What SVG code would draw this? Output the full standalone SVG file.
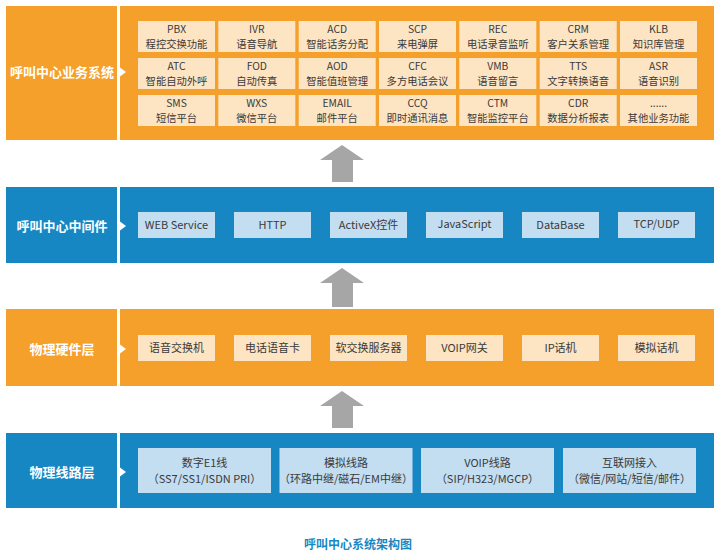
<svg xmlns="http://www.w3.org/2000/svg" width="720" height="555" viewBox="0 0 720 555">
<style>
.bg{fill:#ffffff}
.or{fill:#F5A02A}
.bl{fill:#1787C3}
.pk{fill:#FDE4C3}
.lb{fill:#C3DDF1}
.lbl{font-family:"Noto Sans CJK SC","Noto Sans",sans-serif;font-size:13px;font-weight:bold;fill:#ffffff;text-anchor:middle}
.t{font-family:"Noto Sans CJK SC","Noto Sans",sans-serif;font-size:11px;fill:#3a3a3a;text-anchor:middle}
.s{font-size:10.3px}
.tri{fill:#ffffff}
.arr{fill:#A6A6A6}
.cap{font-family:"Noto Sans CJK SC","Noto Sans",sans-serif;font-size:12px;font-weight:bold;fill:#1787C3;text-anchor:middle}
</style>
<rect class="bg" x="0" y="0" width="720" height="555"/>

<g id="layer-business">
  <rect class="or" x="6" y="6" width="111" height="134"/>
  <rect class="or" x="120" y="6" width="594" height="134"/>
  <polygon class="tri" points="118,66 126,72 118,78"/>
  <text class="lbl" x="62" y="77">呼叫中心业务系统</text>
  <g id="b-pbx"><rect class="pk" x="138" y="21" width="77" height="31"/><text class="t s" x="176.5" y="32.5">PBX<tspan x="176.5" dy="15">程控交换功能</tspan></text></g>
  <g id="b-ivr"><rect class="pk" x="218.3" y="21" width="77" height="31"/><text class="t s" x="256.8" y="32.5">IVR<tspan x="256.8" dy="15">语音导航</tspan></text></g>
  <g id="b-acd"><rect class="pk" x="298.7" y="21" width="77" height="31"/><text class="t s" x="337.2" y="32.5">ACD<tspan x="337.2" dy="15">智能话务分配</tspan></text></g>
  <g id="b-scp"><rect class="pk" x="379" y="21" width="77" height="31"/><text class="t s" x="417.5" y="32.5">SCP<tspan x="417.5" dy="15">来电弹屏</tspan></text></g>
  <g id="b-rec"><rect class="pk" x="459.3" y="21" width="77" height="31"/><text class="t s" x="497.8" y="32.5">REC<tspan x="497.8" dy="15">电话录音监听</tspan></text></g>
  <g id="b-crm"><rect class="pk" x="539.7" y="21" width="77" height="31"/><text class="t s" x="578.2" y="32.5">CRM<tspan x="578.2" dy="15">客户关系管理</tspan></text></g>
  <g id="b-klb"><rect class="pk" x="620" y="21" width="77" height="31"/><text class="t s" x="658.5" y="32.5">KLB<tspan x="658.5" dy="15">知识库管理</tspan></text></g>

  <g id="b-atc"><rect class="pk" x="138" y="58" width="77" height="31"/><text class="t s" x="176.5" y="69.5">ATC<tspan x="176.5" dy="15">智能自动外呼</tspan></text></g>
  <g id="b-fod"><rect class="pk" x="218.3" y="58" width="77" height="31"/><text class="t s" x="256.8" y="69.5">FOD<tspan x="256.8" dy="15">自动传真</tspan></text></g>
  <g id="b-aod"><rect class="pk" x="298.7" y="58" width="77" height="31"/><text class="t s" x="337.2" y="69.5">AOD<tspan x="337.2" dy="15">智能值班管理</tspan></text></g>
  <g id="b-cfc"><rect class="pk" x="379" y="58" width="77" height="31"/><text class="t s" x="417.5" y="69.5">CFC<tspan x="417.5" dy="15">多方电话会议</tspan></text></g>
  <g id="b-vmb"><rect class="pk" x="459.3" y="58" width="77" height="31"/><text class="t s" x="497.8" y="69.5">VMB<tspan x="497.8" dy="15">语音留言</tspan></text></g>
  <g id="b-tts"><rect class="pk" x="539.7" y="58" width="77" height="31"/><text class="t s" x="578.2" y="69.5">TTS<tspan x="578.2" dy="15">文字转换语音</tspan></text></g>
  <g id="b-asr"><rect class="pk" x="620" y="58" width="77" height="31"/><text class="t s" x="658.5" y="69.5">ASR<tspan x="658.5" dy="15">语音识别</tspan></text></g>

  <g id="b-sms"><rect class="pk" x="138" y="95" width="77" height="31"/><text class="t s" x="176.5" y="106.5">SMS<tspan x="176.5" dy="15">短信平台</tspan></text></g>
  <g id="b-wxs"><rect class="pk" x="218.3" y="95" width="77" height="31"/><text class="t s" x="256.8" y="106.5">WXS<tspan x="256.8" dy="15">微信平台</tspan></text></g>
  <g id="b-email"><rect class="pk" x="298.7" y="95" width="77" height="31"/><text class="t s" x="337.2" y="106.5">EMAIL<tspan x="337.2" dy="15">邮件平台</tspan></text></g>
  <g id="b-ccq"><rect class="pk" x="379" y="95" width="77" height="31"/><text class="t s" x="417.5" y="106.5">CCQ<tspan x="417.5" dy="15">即时通讯消息</tspan></text></g>
  <g id="b-ctm"><rect class="pk" x="459.3" y="95" width="77" height="31"/><text class="t s" x="497.8" y="106.5">CTM<tspan x="497.8" dy="15">智能监控平台</tspan></text></g>
  <g id="b-cdr"><rect class="pk" x="539.7" y="95" width="77" height="31"/><text class="t s" x="578.2" y="106.5">CDR<tspan x="578.2" dy="15">数据分析报表</tspan></text></g>
  <g id="b-other"><rect class="pk" x="620" y="95" width="77" height="31"/><text class="t s" x="658.5" y="106.5">......<tspan x="658.5" dy="15">其他业务功能</tspan></text></g>
</g>

<g id="layer-middleware">
  <rect class="bl" x="6" y="187" width="111" height="76"/>
  <rect class="bl" x="120" y="187" width="594" height="76"/>
  <polygon class="tri" points="118,220 126,226 118,232"/>
  <text class="lbl" x="62" y="231">呼叫中心中间件</text>
  <g id="m-web"><rect class="lb" x="138" y="212" width="77" height="26"/><text class="t" x="176.5" y="229">WEB Service</text></g>
  <g id="m-http"><rect class="lb" x="234" y="212" width="77" height="26"/><text class="t" x="272.5" y="229">HTTP</text></g>
  <g id="m-activex"><rect class="lb" x="330" y="212" width="77" height="26"/><text class="t" x="368.5" y="229">ActiveX控件</text></g>
  <g id="m-js"><rect class="lb" x="426" y="212" width="77" height="26"/><text class="t" x="464.5" y="228">JavaScript</text></g>
  <g id="m-db"><rect class="lb" x="522" y="212" width="77" height="26"/><text class="t" x="560.5" y="229">DataBase</text></g>
  <g id="m-tcp"><rect class="lb" x="618" y="212" width="77" height="26"/><text class="t" x="656.5" y="228">TCP/UDP</text></g>
</g>

<g id="layer-hardware">
  <rect class="or" x="6" y="309" width="111" height="77"/>
  <rect class="or" x="120" y="309" width="594" height="77"/>
  <polygon class="tri" points="118,343 126,349 118,355"/>
  <text class="lbl" x="62" y="354">物理硬件层</text>
  <g id="h-switch"><rect class="pk" x="138" y="335" width="77" height="26"/><text class="t" x="176.5" y="352">语音交换机</text></g>
  <g id="h-card"><rect class="pk" x="234" y="335" width="77" height="26"/><text class="t" x="272.5" y="352">电话语音卡</text></g>
  <g id="h-softswitch"><rect class="pk" x="330" y="335" width="77" height="26"/><text class="t" x="368.5" y="352">软交换服务器</text></g>
  <g id="h-gw"><rect class="pk" x="426" y="335" width="77" height="26"/><text class="t" x="464.5" y="352">VOIP网关</text></g>
  <g id="h-ipphone"><rect class="pk" x="522" y="335" width="77" height="26"/><text class="t" x="560.5" y="352">IP话机</text></g>
  <g id="h-analog"><rect class="pk" x="618" y="335" width="77" height="26"/><text class="t" x="656.5" y="352">模拟话机</text></g>
</g>

<g id="layer-lines">
  <rect class="bl" x="6" y="433" width="111" height="75"/>
  <rect class="bl" x="120" y="433" width="594" height="75"/>
  <polygon class="tri" points="118,466 126,472 118,478"/>
  <text class="lbl" x="62" y="477">物理线路层</text>
  <g id="l-e1"><rect class="lb" x="138" y="448" width="133" height="45"/><text class="t" x="204.5" y="466.5">数字E1线<tspan x="204.5" dy="16">（SS7/SS1/ISDN PRI）</tspan></text></g>
  <g id="l-analog"><rect class="lb" x="279.5" y="448" width="133" height="45"/><text class="t" x="346" y="466.5">模拟线路<tspan x="346" dy="16">（环路中继/磁石/EM中继）</tspan></text></g>
  <g id="l-voip"><rect class="lb" x="421" y="448" width="133" height="45"/><text class="t" x="487.5" y="466.5">VOIP线路<tspan x="487.5" dy="16">（SIP/H323/MGCP）</tspan></text></g>
  <g id="l-net"><rect class="lb" x="563" y="448" width="133" height="45"/><text class="t" x="629.5" y="466.5">互联网接入<tspan x="629.5" dy="16">（微信/网站/短信/邮件）</tspan></text></g>
</g>

<g id="connectors">
  <polygon class="arr" points="342,145 364,160 353,160 353,182 332,182 332,160 320,160"/>
  <polygon class="arr" points="342,268 364,283 353,283 353,307 332,307 332,283 320,283"/>
  <polygon class="arr" points="342,391 364,406 353,406 353,428 332,428 332,406 320,406"/>
</g>

<text class="cap" x="358" y="549">呼叫中心系统架构图</text>
</svg>
